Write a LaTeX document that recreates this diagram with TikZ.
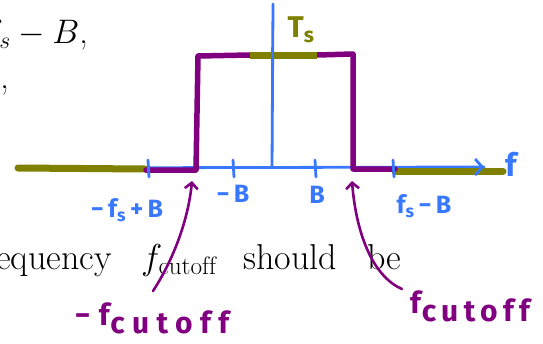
\RequirePackage{fix-cm}
\documentclass[tikz,border=0pt]{standalone}
\usepackage{fontspec}
\newfontfamily\hand{Fira Sans}
\usetikzlibrary{arrows.meta}
\definecolor{olivec}{RGB}{128,128,0}
\definecolor{purp}{RGB}{128,0,128}
\definecolor{bluec}{RGB}{55,120,255}
\begin{document}
\begin{tikzpicture}[x=1pt,y=-1pt,
  axisline/.style={draw=bluec, line width=2.8pt, line cap=round},
  tickmark/.style={draw=bluec, line width=2.8pt, line cap=round},
  pulse/.style={draw=purp, line width=5.5pt, line cap=round, line join=round},
  band/.style={draw=olivec, line width=7pt, line cap=round},
  blab/.style={text=bluec, inner sep=0, font=\hand\bfseries\fontsize{25}{25}\selectfont},
  plab/.style={text=purp, inner sep=0, font=\hand\bfseries\fontsize{30}{30}\selectfont},
  olab/.style={text=olivec, inner sep=0, font=\hand\bfseries\fontsize{30}{30}\selectfont},
  ptr/.style={draw=purp, line width=2.6pt, line cap=round, -{Straight Barb[length=6pt,width=13pt]}},
  bgtext/.style={inner sep=0, font=\fontsize{36}{40}\selectfont},
  toptext/.style={inner sep=0, font=\fontsize{34}{40}\selectfont, anchor=base east}]
\useasboundingbox (0,0) rectangle (543,343);
% background slide text
\node[toptext] (t1) at (88,43) {$f_s - B$,};
\node[toptext] (t2) at (9,88) {$f$,};
\node[bgtext, anchor=base west] (w1) at (-4,269) {equency};
\node[bgtext, anchor=base west] (w2) at (141,269) {$f_{\mathrm{cutoff}}$};
\node[bgtext, anchor=base west] (w3) at (243,269) {should};
\node[bgtext, anchor=base west] (w4) at (367,269) {be};
% axes
\coordinate (ax0) at (18,168);
\coordinate (ax1) at (484,167);
\coordinate (vy0) at (272,168);
\coordinate (vy1) at (273,4);
\draw[axisline] (ax0) -- (ax1);
\draw[axisline] (vy0) -- (vy1);
% olive bands
\coordinate (oL) at (18,168);
\coordinate (oLe) at (145,169);
\coordinate (oRs) at (395,171);
\coordinate (oR) at (503,171);
\draw[band] (oL) -- (oLe);
\draw[band] (oRs) -- (oR);
\draw[axisline] (455,167) -- (ax1);
\draw[axisline, -{Straight Barb[length=7pt,width=16pt]}] (470,167) -- (ax1);
% pulse
\coordinate (p0) at (146,170);
\coordinate (ll) at (196,170);
\coordinate (tl) at (198,56);
\coordinate (tm1) at (250,55);
\coordinate (tm2) at (317,55);
\coordinate (tr) at (353,54);
\coordinate (lr) at (353,169);
\coordinate (p1) at (395,169);
\draw[pulse] (p0) -- (ll) -- (tl) -- (tm1);
\draw[pulse] (tm2) -- (tr) -- (lr) -- (p1);
\draw[band, line cap=butt] (tm1) -- (tm2);
\draw[axisline] (272,48) -- (272,62);
% ticks
\foreach \x/\n in {148/k1,233/k2,315/k3,393/k4}{
  \coordinate (\n a) at (\x,160);
  \coordinate (\n b) at (\x+1,177);
  \draw[tickmark] (\n a) -- (\n b);
}
% blue labels
\node[blab] (lab1) at (127,210) {−\,f\textsubscript{s}\,+\,B};
\node[blab] (lab2) at (233,194) {−\,B};
\node[blab] (lab3) at (317,195) {B};
\node[blab] (lab4) at (424,206) {f\textsubscript{s}\,−\,B};
\node[blab, font=\hand\bfseries\fontsize{32}{32}\selectfont] (lab5) at (511,164) {f};
\node[olab] (ts) at (301,30) {T\textsubscript{s}};
% purple labels
\node[plab] (lc) at (152,318) {−\;f\kern1pt\raisebox{-8pt}{\addfontfeature{LetterSpace=25}cutoff}};
\node[plab] (rc) at (470,306) {f\kern1pt\raisebox{-8pt}{\addfontfeature{LetterSpace=18}cutoff}};
% arrows
\coordinate (lt) at (153,291);
\coordinate (lh) at (192,181);
\coordinate (rt) at (402,289);
\coordinate (rh) at (352,181);
\draw[ptr] (lt) .. controls (172,262) and (188,222) .. (lh);
\draw[ptr] (rt) .. controls (372,276) and (356,232) .. (rh);
\end{tikzpicture}
\end{document}
